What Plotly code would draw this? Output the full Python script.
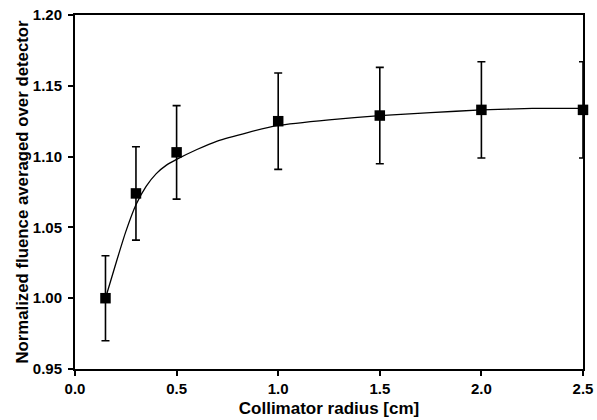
import plotly.graph_objects as go

# Measured points
radius_cm = [0.15, 0.3, 0.5, 1.0, 1.5, 2.0, 2.5]
fluence = [1.000, 1.074, 1.103, 1.125, 1.129, 1.133, 1.133]
fluence_err = [0.030, 0.033, 0.033, 0.034, 0.034, 0.034, 0.034]

# Smooth fitted curve
fit_x = [0.15, 0.2, 0.25, 0.3, 0.35, 0.4, 0.45, 0.5, 0.6, 0.7, 0.85, 1.0, 1.25, 1.5, 1.75, 2.0, 2.25, 2.5]
fit_y = [1.000, 1.024, 1.047, 1.066, 1.079, 1.088, 1.094, 1.098, 1.105, 1.111, 1.117, 1.122, 1.126, 1.129, 1.131, 1.133, 1.134, 1.134]

x_ticks = [0.0, 0.5, 1.0, 1.5, 2.0, 2.5]
y_ticks = [0.95, 1.00, 1.05, 1.10, 1.15, 1.20]

FONT = "Liberation Sans, Arial, sans-serif"

fig = go.Figure()
fig.add_trace(go.Scatter(
    x=fit_x, y=fit_y, mode="lines",
    line=dict(color="black", width=1.3, shape="spline", smoothing=0.6),
    hoverinfo="skip", showlegend=False,
))
fig.add_trace(go.Scatter(
    x=radius_cm, y=fluence, mode="markers",
    marker=dict(symbol="square", size=10.5, color="black"),
    error_y=dict(type="data", array=fluence_err, color="black", thickness=1.6, width=4),
    cliponaxis=False, showlegend=False,
))

axis_common = dict(
    showline=True, linecolor="black", linewidth=1.9, mirror=True,
    ticks="outside", ticklen=5, tickwidth=1.5, tickcolor="black",
    showgrid=False, zeroline=False, ticklabeloverflow="allow",
    tickfont=dict(family=FONT, size=15, color="black", weight="bold"),
)

fig.update_xaxes(
    range=[0, 2.5], tickvals=x_ticks, tickformat=".1f",
    title=dict(text="Collimator radius [cm]", standoff=6,
               font=dict(family=FONT, size=17, color="black", weight="bold")),
    ticklabelstandoff=0,
    **axis_common,
)
fig.update_yaxes(
    range=[0.95, 1.20], tickvals=y_ticks, tickformat=".2f",
    title=dict(text="Normalized fluence averaged over detector", standoff=0,
               font=dict(family=FONT, size=16.8, color="black", weight="bold")),
    ticklabelstandoff=3,
    **axis_common,
)

fig.update_layout(
    width=597, height=420,
    margin=dict(l=75, r=14, t=15, b=51, autoexpand=False),
    plot_bgcolor="white", paper_bgcolor="white",
)

fig.write_html("out.html", config={"displayModeBar": False},
               post_script="document.body.style.margin='0px';")
